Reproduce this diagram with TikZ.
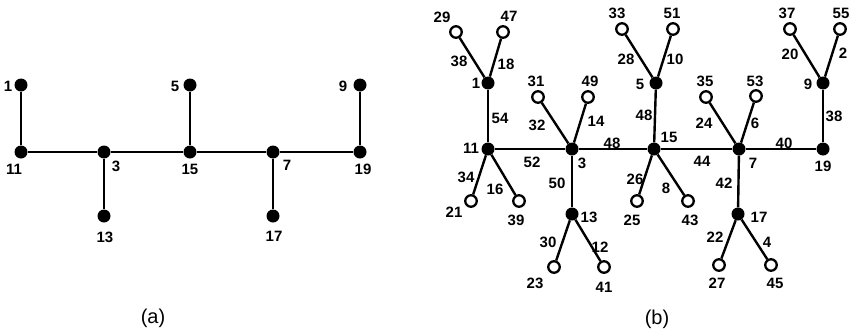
\documentclass[tikz,border=0pt]{standalone}
\usepackage{fontspec}
\setmainfont{Liberation Sans}
\tikzset{
  fnode/.style={circle, fill=black, inner sep=0pt, minimum size=13pt},
  onode/.style={circle, draw=black, fill=white, line width=2.3pt, inner sep=0pt, minimum size=11.5pt},
  lbl/.style={inner sep=0pt, font=\bfseries\fontsize{15}{15}\selectfont},
  captxt/.style={inner sep=0pt, font=\fontsize{20}{20}\selectfont},
  edge/.style={line width=2.4pt}
}
\begin{document}
\begin{tikzpicture}[x=1pt,y=-1pt]
\useasboundingbox (0,0) rectangle (849,335);
% ---------- panel (a) ----------
\node[fnode] (a1)  at (21,85)  {};
\node[fnode] (a11) at (21,152) {};
\node[fnode] (a3)  at (104,152) {};
\node[fnode] (a13) at (104,216) {};
\node[fnode] (a15) at (190,152) {};
\node[fnode] (a5)  at (190,85) {};
\node[fnode] (a7)  at (273,152) {};
\node[fnode] (a17) at (273,216) {};
\node[fnode] (a19) at (360,152) {};
\node[fnode] (a9)  at (360,85) {};
\draw[edge] (a1) -- (a11) -- (a3) -- (a15) -- (a7) -- (a19);
\draw[edge] (a3) -- (a13);
\draw[edge] (a15) -- (a5);
\draw[edge] (a7) -- (a17);
\draw[edge] (a19) -- (a9);
\node[lbl] (la1)  at (8,86)   {1};
\node[lbl] (la11) at (14,169) {11};
\node[lbl] (la3)  at (116,166) {3};
\node[lbl] (la13) at (105,237) {13};
\node[lbl] (la15) at (190,169) {15};
\node[lbl] (la5)  at (175,86) {5};
\node[lbl] (la7)  at (287,165) {7};
\node[lbl] (la17) at (274,236) {17};
\node[lbl] (la19) at (363,169) {19};
\node[lbl] (la9)  at (343,86) {9};
\node[captxt] (capa) at (153,318) {(a)};
% ---------- panel (b) ----------
% trunk nodes
\node[fnode] (b1)  at (488,83)  {};
\node[fnode] (b11) at (488,149) {};
\node[fnode] (b3)  at (572,149) {};
\node[fnode] (b13) at (572,214) {};
\node[fnode] (b15) at (654,149) {};
\node[fnode] (b5)  at (656,83)  {};
\node[fnode] (b7)  at (739,149) {};
\node[fnode] (b17) at (738,214) {};
\node[fnode] (b19) at (823,149) {};
\node[fnode] (b9)  at (823,83)  {};
% leaves
\node[onode] (b29) at (456,32) {};
\node[onode] (b47) at (503,32) {};
\node[onode] (b31) at (538,97) {};
\node[onode] (b49) at (588,97) {};
\node[onode] (b33) at (622,29) {};
\node[onode] (b51) at (673,29) {};
\node[onode] (b35) at (706,97) {};
\node[onode] (b53) at (756,96) {};
\node[onode] (b37) at (790,29) {};
\node[onode] (b55) at (840,29) {};
\node[onode] (b21) at (471,201) {};
\node[onode] (b39) at (519,201) {};
\node[onode] (b23) at (554,267) {};
\node[onode] (b41) at (604,267) {};
\node[onode] (b25) at (637,201) {};
\node[onode] (b43) at (688,201) {};
\node[onode] (b27) at (719,265) {};
\node[onode] (b45) at (771,265) {};
% edges
\draw[edge] (b1) -- (b11) -- (b3) -- (b15) -- (b7) -- (b19) -- (b9);
\draw[edge] (b3) -- (b13);
\draw[edge] (b15) -- (b5);
\draw[edge] (b7) -- (b17);
\draw[edge] (b1) -- (b29);
\draw[edge] (b1) -- (b47);
\draw[edge] (b3) -- (b31);
\draw[edge] (b3) -- (b49);
\draw[edge] (b5) -- (b33);
\draw[edge] (b5) -- (b51);
\draw[edge] (b7) -- (b35);
\draw[edge] (b7) -- (b53);
\draw[edge] (b9) -- (b37);
\draw[edge] (b9) -- (b55);
\draw[edge] (b11) -- (b21);
\draw[edge] (b11) -- (b39);
\draw[edge] (b13) -- (b23);
\draw[edge] (b13) -- (b41);
\draw[edge] (b15) -- (b25);
\draw[edge] (b15) -- (b43);
\draw[edge] (b17) -- (b27);
\draw[edge] (b17) -- (b45);
% vertex labels
\node[lbl] (lb1)  at (476,83)  {1};
\node[lbl] (lb11) at (471,148) {11};
\node[lbl] (lb3)  at (582,163) {3};
\node[lbl] (lb13) at (589,217) {13};
\node[lbl] (lb15) at (669,137) {15};
\node[lbl] (lb5)  at (640,84)  {5};
\node[lbl] (lb7)  at (753,163) {7};
\node[lbl] (lb17) at (759,217) {17};
\node[lbl] (lb19) at (823,166) {19};
\node[lbl] (lb9)  at (808,84)  {9};
\node[lbl] (lb29) at (442,17) {29};
\node[lbl] (lb47) at (509,16) {47};
\node[lbl] (lb31) at (536,81) {31};
\node[lbl] (lb49) at (590,81) {49};
\node[lbl] (lb33) at (617,13) {33};
\node[lbl] (lb51) at (672,13) {51};
\node[lbl] (lb35) at (705,81) {35};
\node[lbl] (lb53) at (755,81) {53};
\node[lbl] (lb37) at (787,13) {37};
\node[lbl] (lb55) at (841,13) {55};
\node[lbl] (lb21) at (454,212) {21};
\node[lbl] (lb39) at (516,220) {39};
\node[lbl] (lb23) at (535,283) {23};
\node[lbl] (lb41) at (604,287) {41};
\node[lbl] (lb25) at (632,220) {25};
\node[lbl] (lb43) at (690,220) {43};
\node[lbl] (lb27) at (717,283) {27};
\node[lbl] (lb45) at (775,283) {45};
% edge labels
\node[lbl] (e38a) at (459,61)  {38};
\node[lbl] (e18)  at (506,64)  {18};
\node[lbl] (e54)  at (500,118) {54};
\node[lbl] (e32)  at (537,125) {32};
\node[lbl] (e14)  at (596,121) {14};
\node[lbl] (e52)  at (532,162) {52};
\node[lbl] (e48a) at (612,143) {48};
\node[lbl] (e28)  at (626,59)  {28};
\node[lbl] (e10)  at (675,59)  {10};
\node[lbl] (e48b) at (644,115) {48};
\node[lbl] (e24)  at (704,123) {24};
\node[lbl] (e6)   at (755,123) {6};
\node[lbl] (e44)  at (702,161) {44};
\node[lbl] (e40)  at (784,143) {40};
\node[lbl] (e20)  at (790,54)  {20};
\node[lbl] (e2)   at (843,53)  {2};
\node[lbl] (e38b) at (834,116) {38};
\node[lbl] (e34)  at (466,177) {34};
\node[lbl] (e16)  at (495,189) {16};
\node[lbl] (e50)  at (557,183) {50};
\node[lbl] (e30)  at (548,242) {30};
\node[lbl] (e12)  at (600,247) {12};
\node[lbl] (e26)  at (635,179) {26};
\node[lbl] (e8)   at (666,188) {8};
\node[lbl] (e42)  at (724,183) {42};
\node[lbl] (e22)  at (715,237) {22};
\node[lbl] (e4)   at (767,242) {4};
\node[captxt] (capb) at (657,319) {(b)};
\end{tikzpicture}
\end{document}
